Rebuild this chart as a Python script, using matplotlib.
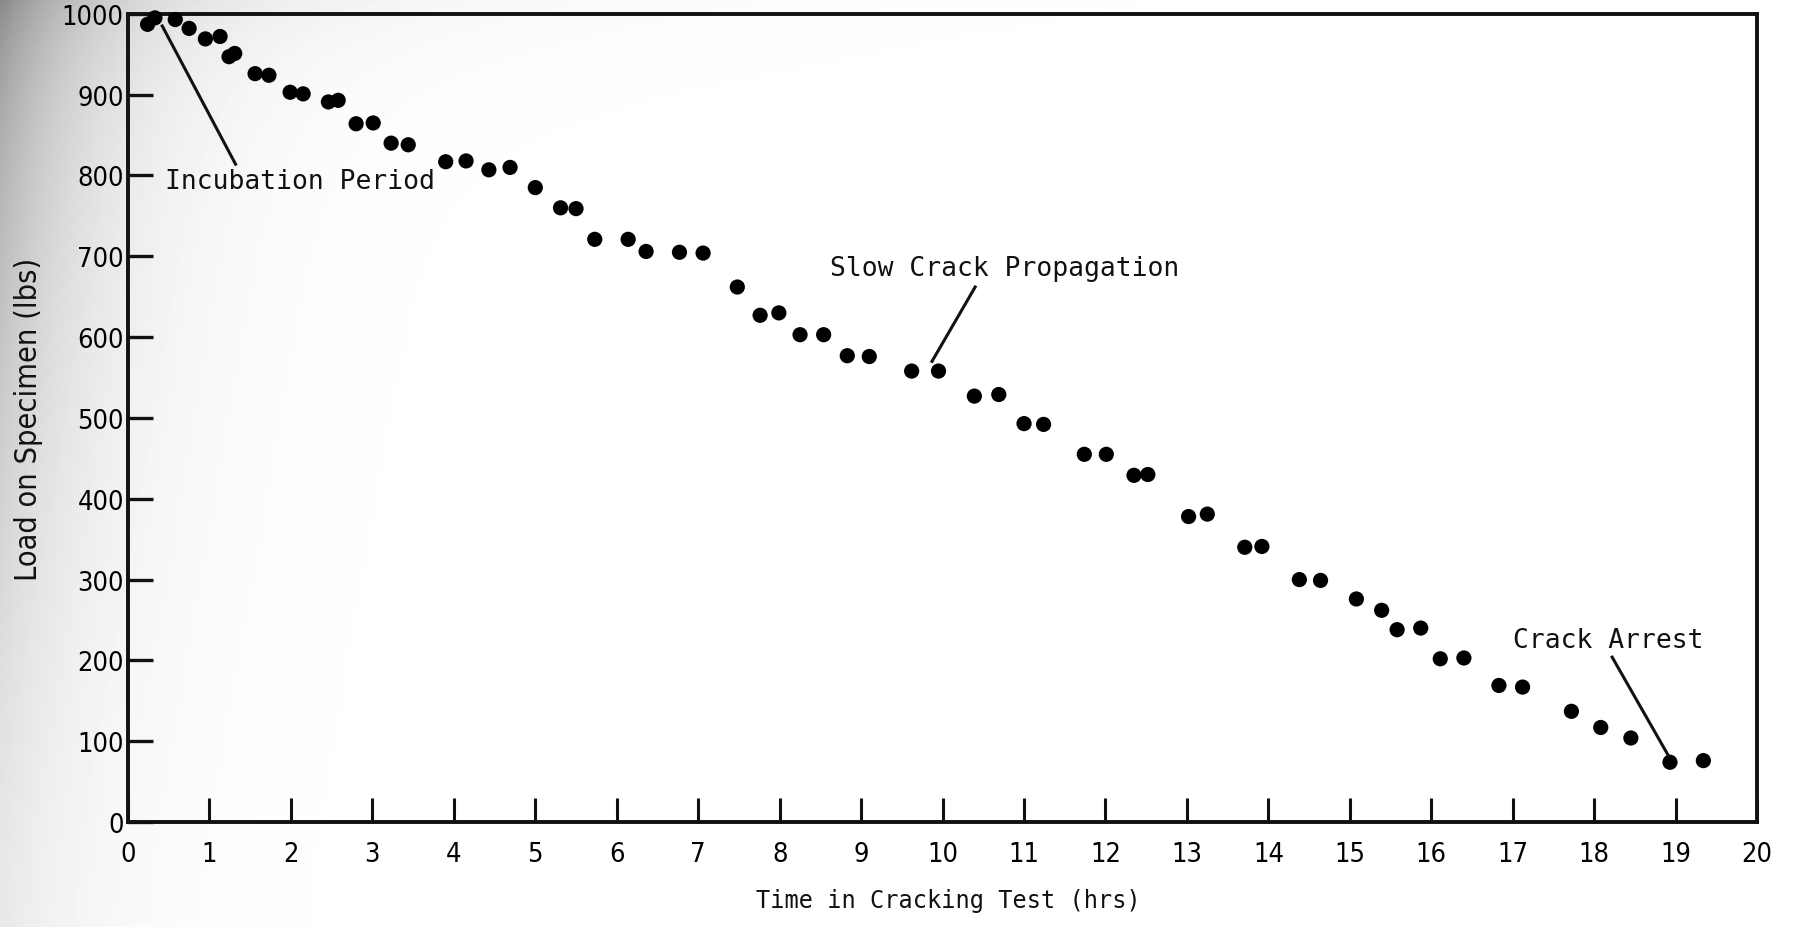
import matplotlib
matplotlib.use("Agg")
import matplotlib.pyplot as plt
import numpy as np

# load readings (hrs, lbs)
times = [0.24, 0.33, 0.58, 0.75, 0.95, 1.13, 1.24, 1.31, 1.56, 1.73,
         1.99, 2.15, 2.46, 2.58, 2.80, 3.01, 3.23, 3.44, 3.90, 4.15,
         4.43, 4.69, 5.00, 5.31, 5.50, 5.73, 6.14, 6.36, 6.77, 7.06,
         7.48, 7.76, 7.99, 8.25, 8.54, 8.83, 9.10, 9.62, 9.95, 10.39,
         10.69, 11.00, 11.24, 11.74, 12.01, 12.35, 12.52, 13.02, 13.25, 13.71,
         13.92, 14.38, 14.64, 15.08, 15.39, 15.58, 15.87, 16.11, 16.40, 16.83,
         17.12, 17.72, 18.08, 18.45, 18.93, 19.34]
loads = [987, 995, 993, 982, 969, 972, 947, 951, 926, 924,
         903, 901, 891, 893, 864, 865, 840, 838, 817, 818,
         807, 810, 785, 760, 759, 721, 721, 706, 705, 704,
         662, 627, 630, 603, 603, 577, 576, 558, 558, 527,
         529, 493, 492, 455, 455, 429, 430, 378, 381, 340,
         341, 300, 299, 276, 262, 238, 240, 202, 203, 169,
         167, 137, 117, 104, 74, 76]

x_ticks = list(range(0, 21))
y_ticks = list(range(0, 1001, 100))

# annotation text, text anchor, pointer start, pointer end
notes = ["Incubation Period", "Slow Crack Propagation", "Crack Arrest"]
note_pos = [(0.45, 793), (8.62, 686), (17.0, 225)]
line_from = [(1.32, 814), (10.40, 662), (18.22, 204)]
line_to = [(0.42, 985), (9.87, 570), (18.90, 84)]

mono = ["DejaVu Sans Mono"]
sans = ["DejaVu Sans"]

fig = plt.figure(figsize=(17.93, 9.28), dpi=100)

# scanned-page shading on the left and top
bg = fig.add_axes([0, 0, 1, 1], zorder=-10)
gx, gy = np.meshgrid(np.linspace(0, 1, 500), np.linspace(0, 1, 250))
shade = (1 - 0.36 * np.exp(-gx / 0.055) * (0.25 + 0.75 * (1 - gy) ** 1.5)
         - 0.10 * np.exp(-gy / 0.07) * np.exp(-gx / 0.2))
bg.imshow(shade, cmap="gray", vmin=0, vmax=1, aspect="auto", extent=[0, 1, 0, 1])
bg.axis("off")

ax = fig.add_axes([0.0714, 0.1131, 0.9086, 0.8709])
ax.patch.set_alpha(0)
ax.scatter(times, loads, s=120, color="black", edgecolors="none", clip_on=False, zorder=3)

ax.set_xlim(0, 20)
ax.set_ylim(0, 1000)
ax.set_xticks(x_ticks)
ax.set_yticks(y_ticks)
ax.set_xticklabels([str(t) for t in x_ticks], family=sans, fontstretch="condensed", fontsize=19.5)
ax.set_yticklabels([str(t) for t in y_ticks], family=sans, fontstretch="condensed", fontsize=19.5)
ax.tick_params(axis="x", direction="in", length=17, width=2.2, pad=14, color="#111111")
ax.tick_params(axis="y", direction="in", length=18, width=2.4, pad=3, color="#111111")
for side in ax.spines.values():
    side.set_linewidth(2.8)
    side.set_color("#111111")

for txt, (tx, ty), p0, p1 in zip(notes, note_pos, line_from, line_to):
    ax.text(tx, ty, txt, family=mono, fontsize=19, ha="left", va="center", color="#111111")
    ax.plot([p0[0], p1[0]], [p0[1], p1[1]], color="#111111", lw=2.2, clip_on=False)

fig.text(0.529, 0.029, "Time in Cracking Test (hrs)", family=mono, fontsize=17,
         ha="center", va="center", color="#111111")
fig.text(0.016, 0.548, "Load on Specimen (lbs)", family=sans, fontstretch="condensed",
         fontsize=22, ha="center", va="center", rotation=90, color="#111111")

fig.savefig("out.png", dpi=100)
